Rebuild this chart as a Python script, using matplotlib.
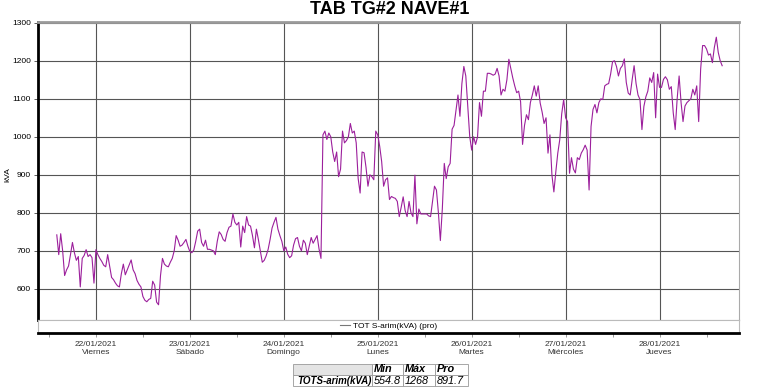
import pandas as pd
import matplotlib
matplotlib.use('Agg')
import matplotlib.pyplot as plt
import matplotlib.dates as md
from matplotlib.lines import Line2D

plt.rcParams['font.family'] = ['Liberation Sans', 'DejaVu Sans']

# half-hourly readings, TOT S-arim (kVA), from 21/01/2021 14:00
start = '2021-01-21 14:00'
kva_21 = [742, 690, 745, 700, 635, 650, 660, 690, 722, 695,
          675, 685, 605, 680, 688, 703, 685, 690, 682, 615]
kva_22 = [703, 690, 680, 672, 662, 658, 690, 660, 630, 624, 615, 608,
          605, 640, 665, 637, 650, 663, 676, 650, 640, 622, 612, 605,
          580, 570, 566, 572, 575, 620, 610, 565, 558, 635, 680, 665,
          660, 658, 670, 680, 700, 740, 728, 712, 715, 722, 730, 712]
kva_23 = [698, 695, 702, 725, 752, 757, 722, 712, 728, 704, 704, 702,
          700, 690, 725, 750, 743, 730, 725, 748, 762, 765, 797, 775,
          768, 775, 710, 765, 748, 790, 768, 765, 740, 708, 757, 730,
          700, 670, 675, 687, 704, 730, 760, 775, 788, 757, 740, 725]
kva_24 = [700, 710, 691, 682, 687, 715, 732, 735, 712, 700, 728, 720,
          690, 712, 735, 720, 730, 740, 705, 680, 1005, 1015, 993, 1010,
          1000, 960, 935, 960, 895, 915, 1015, 984, 990, 1000, 1035, 1010,
          1015, 984, 890, 852, 960, 958, 920, 870, 900, 895, 887, 1015]
kva_25 = [1005, 975, 935, 870, 887, 892, 835, 843, 840, 838, 830, 790,
          815, 842, 806, 790, 830, 800, 790, 899, 771, 810, 797, 797,
          797, 797, 792, 790, 830, 870, 860, 800, 727, 810, 930, 890,
          921, 930, 1020, 1030, 1070, 1110, 1054, 1140, 1185, 1160, 1080, 1001]
kva_26 = [965, 1000, 980, 1000, 1090, 1054, 1120, 1120, 1167, 1167, 1165, 1162,
          1165, 1180, 1160, 1110, 1125, 1120, 1150, 1204, 1180, 1155, 1134, 1116,
          1120, 1092, 980, 1030, 1058, 1045, 1090, 1110, 1134, 1107, 1134, 1089,
          1065, 1035, 1050, 957, 1005, 900, 855, 908, 957, 992, 1060, 1098]
kva_27 = [1050, 1040, 904, 945, 915, 905, 945, 940, 957, 966, 978, 965,
          860, 1027, 1072, 1085, 1063, 1090, 1100, 1098, 1134, 1138, 1140, 1165,
          1198, 1200, 1185, 1160, 1180, 1187, 1205, 1143, 1115, 1110, 1150, 1187,
          1140, 1110, 1098, 1019, 1080, 1105, 1120, 1155, 1143, 1169, 1050, 1165]
kva_28 = [1130, 1130, 1151, 1158, 1150, 1125, 1132, 1063, 1019, 1100, 1160, 1090,
          1040, 1081, 1090, 1095, 1100, 1125, 1110, 1134, 1040, 1178, 1240, 1240,
          1231, 1215, 1218, 1195, 1235, 1262, 1222, 1200, 1187]

kva = kva_21 + kva_22 + kva_23 + kva_24 + kva_25 + kva_26 + kva_27 + kva_28
times = pd.date_range(start, periods=len(kva), freq='30min')

day_dates = ['22/01/2021', '23/01/2021', '24/01/2021', '25/01/2021',
             '26/01/2021', '27/01/2021', '28/01/2021']
day_names = ['Viernes', 'Sábado', 'Domingo', 'Lunes', 'Martes', 'Miércoles', 'Jueves']
yticks = [600, 700, 800, 900, 1000, 1100, 1200, 1300]

series_name = 'TOT S-arim(kVA) (pro)'
row_label = 'TOTS-arim(kVA)'
stat_names = ['Min', 'Máx', 'Pro']
stat_values = ['554.8', '1268', '891.7']

W, H = 761, 388
fig = plt.figure(figsize=(W / 100, H / 100), dpi=100)

ax = fig.add_axes([38 / W, 1 - 320 / H, 701 / W, 298 / H])
strip = fig.add_axes([38 / W, 1 - 333 / H, 701 / W, 13 / H])

xmin = pd.Timestamp('2021-01-21 09:12')
xmax = pd.Timestamp('2021-01-28 20:18')
days = pd.to_datetime(day_dates, format='%d/%m/%Y')

line, = ax.plot(times, kva, color='#9c1f9c', lw=0.8)
ax.set_xlim(xmin, xmax)
ax.set_ylim(518, 1302)
ax.set_yticks(yticks)
ax.set_xticks(days)
ax.tick_params(axis='x', length=0, labelbottom=False)
ax.tick_params(axis='y', labelsize=6, length=3, width=0.6, color='#444', pad=2)
ax.grid(True, color='#555555', lw=0.8)
ax.spines['left'].set_linewidth(2)
ax.spines['left'].set_color('black')
ax.spines['top'].set_linewidth(2)
ax.spines['top'].set_color('#9a9a9a')
ax.spines['right'].set_linewidth(0.8)
ax.spines['right'].set_color('#aaaaaa')
ax.spines['bottom'].set_linewidth(0.8)
ax.spines['bottom'].set_color('#bbbbbb')

strip.set_xlim(xmin, xmax)
strip.set_ylim(0, 1)
strip.set_yticks([])
strip.set_xticks(days)
strip.set_xticklabels([d + '\n' + n for d, n in zip(day_dates, day_names)])
strip.xaxis.set_minor_locator(md.HourLocator(byhour=[12]))
strip.tick_params(axis='x', which='both', length=3, width=0.6, color='#888',
                  labelsize=6, labelcolor='#333', pad=3)
for s in ['left', 'top', 'right']:
    strip.spines[s].set_color('#bbbbbb')
    strip.spines[s].set_linewidth(0.8)
strip.spines['bottom'].set_linewidth(2)
strip.spines['bottom'].set_color('black')
strip.legend(handles=[Line2D([], [], color='#777', lw=0.8)], labels=[series_name],
             loc='center', frameon=False, fontsize=6, handlelength=1.2,
             handletextpad=0.4, borderpad=0, borderaxespad=0)

fig.text(390 / W, 1 - 10 / H, 'TAB TG#2 NAVE#1', ha='center', va='center',
         fontsize=13, fontweight='bold')
fig.text(8 / W, 1 - 175 / H, 'kVA', rotation=90, ha='center', va='center', fontsize=6)

# stats table
tax = fig.add_axes([293 / W, 1 - 386 / H, 175 / W, 22 / H])
tax.axis('off')
tbl = tax.table(cellText=[[row_label] + stat_values], colLabels=[''] + stat_names,
                colWidths=[79 / 175, 31 / 175, 32 / 175, 33 / 175],
                cellLoc='left', colLoc='left', bbox=[0, 0, 1, 1])
tbl.auto_set_font_size(False)
tbl.set_fontsize(7.8)
for (r, c), cell in tbl.get_celld().items():
    cell.set_edgecolor('#999999')
    cell.set_linewidth(0.6)
    cell.PAD = 0.06
    txt = cell.get_text()
    if r == 0 or c == 0:
        txt.set_fontweight('bold')
    txt.set_fontstyle('italic')
    if c == 0:
        txt.set_fontsize(7)
    if r == 0 and c == 0:
        cell.set_facecolor('#e4e4e4')

fig.savefig('out.png', dpi=100)
